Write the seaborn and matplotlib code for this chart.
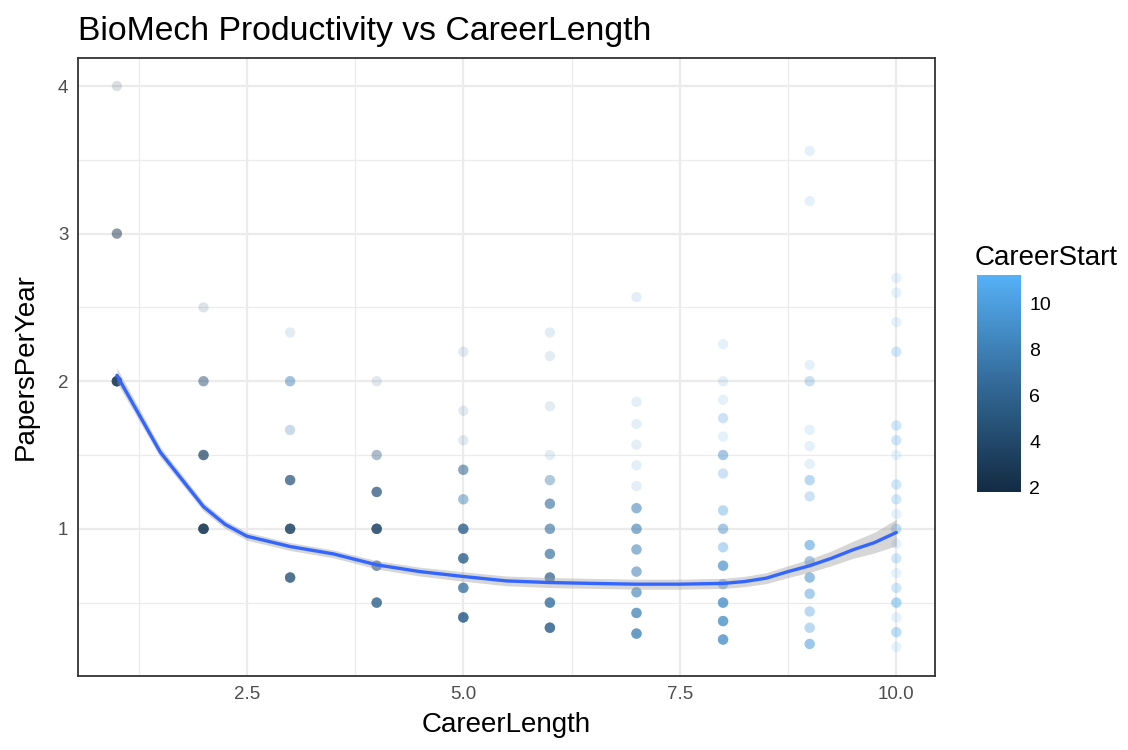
import numpy as np
import pandas as pd
import matplotlib
matplotlib.use("Agg")
import matplotlib.pyplot as plt
from matplotlib.colors import LinearSegmentedColormap, Normalize
from matplotlib.cm import ScalarMappable
import seaborn as sns

# Puntos (x, y, CareerStart, cuantos puntos se solapan)
career_length = (
    [1] * 3 + [2] * 4 + [3] * 6 + [4] * 6 + [5] * 9 + [6] * 11
    + [7] * 13 + [8] * 15 + [9] * 16 + [10] * 19
)
papers_per_year = [
    4.0, 3.0, 2.0,
    2.5, 2.0, 1.5, 1.0,
    2.33, 2.0, 1.67, 1.33, 1.0, 0.67,
    2.0, 1.5, 1.25, 1.0, 0.75, 0.5,
    2.2, 1.8, 1.6, 1.4, 1.2, 1.0, 0.8, 0.6, 0.4,
    2.33, 2.17, 1.83, 1.5, 1.33, 1.17, 1.0, 0.83, 0.67, 0.5, 0.33,
    2.57, 1.86, 1.71, 1.57, 1.43, 1.29, 1.14, 1.0, 0.86, 0.71, 0.57, 0.43, 0.29,
    2.25, 2.0, 1.875, 1.75, 1.625, 1.5, 1.375, 1.125, 1.0, 0.875, 0.75, 0.625, 0.5, 0.375, 0.25,
    3.56, 3.22, 2.11, 2.0, 1.67, 1.56, 1.44, 1.33, 1.22, 0.89, 0.78, 0.67, 0.56, 0.44, 0.33, 0.22,
    2.7, 2.6, 2.4, 2.2, 1.7, 1.6, 1.5, 1.3, 1.2, 1.1, 1.0, 0.9, 0.8, 0.7, 0.6, 0.5, 0.4, 0.3, 0.2,
]
career_start = [
    1.8, 2, 3,
    4, 4, 4, 3,
    8, 8, 8, 5, 4, 5,
    6, 5, 5, 4, 5, 6,
    7, 7, 7, 6, 8, 6, 6, 7, 6,
    8, 8, 8, 8, 7, 7, 7, 7, 6, 7, 6,
    9, 9, 9, 9, 9, 9, 8, 8, 8, 8, 8, 8, 8,
    10, 9, 10, 10, 10, 9, 10, 10, 9, 10, 9, 9, 9, 9, 9,
    10, 10, 10, 9, 10, 10, 10, 10, 10, 10, 9, 9, 10, 10, 10, 10,
    11, 11, 11, 11, 11, 11, 11, 11, 11, 11, 11, 11, 11, 11, 11, 11, 11, 11, 11.25,
]
overlap = [
    1, 4, 14,
    1, 4, 8, 14,
    1, 4, 2, 8, 12, 10,
    1, 3, 8, 12, 6, 10,
    1, 1, 1, 5, 4, 10, 10, 9, 12,
    1, 1, 1, 1, 3, 6, 6, 7, 8, 10, 11,
    1, 1, 1, 1, 1, 1, 5, 6, 5, 5, 6, 8, 9,
    1, 1, 1, 2, 1, 4, 2, 3, 4, 3, 7, 4, 9, 9, 9,
    1, 1, 1, 2, 1, 1, 1, 3, 2, 5, 4, 5, 4, 3, 3, 5,
    1, 1, 1, 2, 2, 2, 1, 2, 2, 1, 3, 1, 2, 1, 2, 4, 1, 3, 1,
]

# Curva suavizada (loess) y su error estandar
smooth_x = [1, 1.5, 2, 2.25, 2.5, 3, 3.5, 4, 4.5, 5, 5.5, 6, 6.5, 7, 7.5, 8,
            8.25, 8.5, 8.75, 9, 9.25, 9.5, 9.75, 10]
smooth_y = [2.04, 1.52, 1.15, 1.03, 0.95, 0.88, 0.83, 0.756, 0.71, 0.677, 0.647,
            0.636, 0.63, 0.625, 0.625, 0.63, 0.643, 0.666, 0.71, 0.75, 0.80,
            0.858, 0.907, 0.975]
smooth_se = [0.05, 0.035, 0.03, 0.028, 0.027, 0.027, 0.027, 0.028, 0.03, 0.032,
             0.033, 0.034, 0.034, 0.034, 0.034, 0.034, 0.035, 0.037, 0.04,
             0.045, 0.05, 0.058, 0.07, 0.09]

df = pd.DataFrame({
    "CareerLength": career_length,
    "PapersPerYear": papers_per_year,
    "CareerStart": career_start,
    "n": overlap,
})
df_full = df.loc[df.index.repeat(df["n"])].reset_index(drop=True)

smooth = pd.DataFrame({"x": smooth_x, "y": smooth_y, "se": smooth_se})

sns.set_theme(style="white")
plt.rcParams["font.family"] = ["Liberation Sans", "DejaVu Sans"]

# gradiente por defecto de ggplot2
cmap = LinearSegmentedColormap.from_list(
    "gg", ["#132B43", "#234A6D", "#336A98", "#448DC7", "#56B1F7"]
)
norm = Normalize(vmin=min(career_start), vmax=max(career_start))

fig = plt.figure(figsize=(11.28, 7.5), dpi=100)
ax = fig.add_axes([0.0691, 0.0987, 0.760, 0.824])

sns.scatterplot(data=df_full, x="CareerLength", y="PapersPerYear", hue="CareerStart",
                palette=cmap, hue_norm=norm, alpha=0.15, s=55, linewidth=0,
                legend=False, ax=ax, zorder=3)
ax.fill_between(smooth["x"], smooth["y"] - smooth["se"], smooth["y"] + smooth["se"],
                color="#999999", alpha=0.4, linewidth=0, zorder=4)
sns.lineplot(data=smooth, x="x", y="y", color="#3366FF", linewidth=2.4, ax=ax, zorder=5)

ax.set_xlim(0.55, 10.45)
ax.set_ylim(0.003, 4.19)
ax.set_xticks([2.5, 5.0, 7.5, 10.0])
ax.set_xticklabels(["2.5", "5.0", "7.5", "10.0"])
ax.set_yticks([1, 2, 3, 4])
ax.set_xticks([1.25, 3.75, 6.25, 8.75], minor=True)
ax.set_yticks([0.5, 1.5, 2.5, 3.5], minor=True)
ax.grid(True, which="major", color="#EBEBEB", linewidth=1.6, zorder=0)
ax.grid(True, which="minor", color="#EBEBEB", linewidth=0.9, zorder=0)
ax.set_axisbelow(True)
for sp in ax.spines.values():
    sp.set_color("#333333")
    sp.set_linewidth(1.3)
ax.tick_params(axis="both", which="major", length=4, width=1.2, color="#333333",
               labelsize=13.5, labelcolor="#4D4D4D", pad=3)
ax.tick_params(axis="both", which="minor", length=0)

ax.set_xlabel("CareerLength", fontsize=20, color="black", labelpad=7)
ax.set_ylabel("PapersPerYear", fontsize=20, color="black", labelpad=14)
ax.set_title("BioMech Productivity vs CareerLength", fontsize=24.3, loc="left",
             color="black", pad=13)

# barra de color estilo ggplot
cax = fig.add_axes([0.866, 0.344, 0.039, 0.290])
sm = ScalarMappable(norm=norm, cmap=cmap)
cbar = fig.colorbar(sm, cax=cax, ticks=[2, 4, 6, 8, 10])
cbar.outline.set_visible(False)
cax.yaxis.set_ticks_position("both")
cax.yaxis.set_label_position("right")
cax.tick_params(axis="y", direction="in", length=6, width=1.2, color="white",
                labelsize=14, labelcolor="black", pad=6, labelleft=False, labelright=True)
fig.text(0.864, 0.656, "CareerStart", fontsize=20, color="black", va="center", ha="left")

fig.savefig("out.png", dpi=100)
